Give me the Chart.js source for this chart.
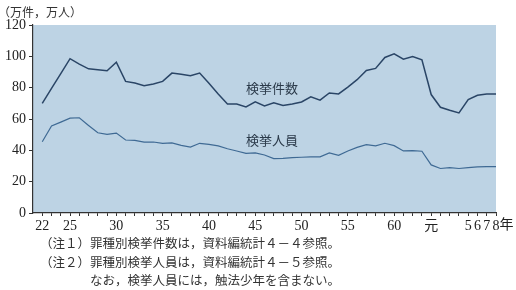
<!DOCTYPE html>
<html>
<head>
<meta charset="utf-8">
<script src="https://cdn.jsdelivr.net/npm/chart.js@4/dist/chart.umd.min.js"></script>
<style>
  html, body { margin: 0; padding: 0; background: #fff; }
  #wrap { position: relative; width: 516px; height: 290px; overflow: hidden; }
  #unit { position: absolute; left: -2px; top: 3px; font: 12px 'Noto Sans CJK JP'; color: #333; }
  #notes { position: absolute; left: 40px; top: 234px; font: 12.5px/18.5px 'Noto Sans CJK JP'; color: #333; white-space: nowrap; }
</style>
</head>
<body>
<div id="wrap">
  <canvas id="crimeChart" width="516" height="290"></canvas>
  <div id="unit">（万件，万人）</div>
  <div id="notes">
    <div>（注１）罪種別検挙件数は，資料編統計４－４参照。</div>
    <div>（注２）罪種別検挙人員は，資料編統計４－５参照。</div>
    <div style="padding-left:50px">なお，検挙人員には，触法少年を含まない。</div>
  </div>
</div>
<script>
// 昭和22年 ... 昭和63年, 平成元年 ... 平成8年
const years = ['22','23','24','25','26','27','28','29','30','31','32','33','34','35','36','37','38','39','40','41',
  '42','43','44','45','46','47','48','49','50','51','52','53','54','55','56','57','58','59','60','61','62','63',
  '元','2','3','4','5','6','7','8'];
const shownYears = ['22','25','30','35','40','45','50','55','60','元','5','6','7','8'];
const yearUnit = '年';

// 検挙件数 (万件)
const casesCleared = [70, 79.5, 89, 98.5, 95, 92, 91.4, 90.8, 96.3, 84,
  83, 81.3, 82.3, 84, 89.3, 88.5, 87.6, 89.3, 82.8, 76,
  69.6, 69.6, 67.7, 70.9, 68.4, 70.3, 68.6, 69.6, 70.9, 74.1,
  72, 76.6, 76, 80.4, 85.1, 91, 92.3, 99.3, 101.6, 98.2,
  99.9, 97.8, 75.6, 67.5, 65.6, 63.9, 72.4, 75.1, 76, 76];
// 検挙人員 (万人)
const personsCleared = [45.5, 55.5, 58, 60.5, 60.8, 55.9, 51.2, 50.2, 51, 46.6,
  46.4, 45.2, 45.3, 44.5, 44.8, 43.2, 42.1, 44.5, 43.8, 42.8,
  41, 39.6, 38.1, 38.4, 37, 34.7, 34.9, 35.3, 35.6, 35.8,
  35.8, 38.3, 36.8, 39.6, 41.9, 43.6, 42.9, 44.5, 43, 39.6,
  39.8, 39.4, 30.7, 28.4, 29, 28.4, 29, 29.4, 29.6, 29.6];
const yTicks = [0, 20, 40, 60, 80, 100, 120];

const toPoints = arr => arr.map((v, i) => ({ x: i, y: v }));
const tickFont = { family: "'Liberation Serif', 'Noto Sans CJK JP'", size: 14 };

const plotBg = {
  id: 'plotBg',
  beforeDraw(chart) {
    const { ctx, chartArea: a } = chart;
    ctx.save();
    ctx.fillStyle = '#bdd3e4';
    ctx.fillRect(a.left, a.top, a.right - a.left, a.bottom - a.top);
    ctx.restore();
  }
};

// series names inside the plot, plus the 年 unit after the last year label
const extraText = {
  id: 'extraText',
  afterDraw(chart, args, opts) {
    const { ctx, scales: { x, y } } = chart;
    ctx.save();
    ctx.font = '13px "Noto Sans CJK JP"';
    ctx.fillStyle = '#2b3a4a';
    ctx.textAlign = 'center';
    ctx.textBaseline = 'middle';
    opts.items.forEach(it => ctx.fillText(it.text, x.getPixelForValue(it.x), y.getPixelForValue(it.y)));

    const last = years.length - 1;
    ctx.font = '14px ' + tickFont.family;
    const half = ctx.measureText(years[last]).width / 2;
    ctx.fillStyle = '#222';
    ctx.textAlign = 'left';
    ctx.textBaseline = 'top';
    ctx.fillText(yearUnit, x.getPixelForValue(last) + half, x.top + 5);
    ctx.restore();
  }
};

new Chart(document.getElementById('crimeChart'), {
  type: 'line',
  data: {
    datasets: [{
      label: '検挙件数',
      data: toPoints(casesCleared),
      borderColor: '#2a4566',
      borderWidth: 1.5,
      pointRadius: 0,
      tension: 0
    }, {
      label: '検挙人員',
      data: toPoints(personsCleared),
      borderColor: '#3f6a94',
      borderWidth: 1.2,
      pointRadius: 0,
      tension: 0
    }]
  },
  options: {
    responsive: false,
    animation: false,
    layout: { padding: { top: 25, right: 20, bottom: 57, left: 0 } },
    plugins: {
      legend: { display: false },
      tooltip: { enabled: false },
      extraText: { items: [
        { text: '検挙件数', x: 24.8, y: 80 },
        { text: '検挙人員', x: 24.8, y: 46.3 }
      ] }
    },
    scales: {
      x: {
        type: 'linear',
        min: -1,
        max: years.length - 1,
        afterBuildTicks: s => { s.ticks = years.map((_, i) => ({ value: i })); },
        afterFit: s => { s.height = 20; },
        border: { display: true, color: '#333', width: 1.2 },
        grid: { drawOnChartArea: false, tickLength: 3, color: '#333' },
        ticks: {
          autoSkip: false,
          maxRotation: 0,
          padding: 2,
          color: '#222',
          font: tickFont,
          callback: v => shownYears.includes(years[v]) ? years[v] : ''
        }
      },
      y: {
        min: 0,
        max: 120,
        afterBuildTicks: s => { s.ticks = yTicks.map(v => ({ value: v })); },
        afterFit: s => { s.width = 33; },
        border: { display: true, color: '#333', width: 1.2 },
        grid: { drawOnChartArea: false, tickLength: 4, color: '#333' },
        ticks: {
          padding: 3,
          color: '#222',
          font: tickFont
        }
      }
    }
  },
  plugins: [plotBg, extraText]
});
</script>
</body>
</html>
